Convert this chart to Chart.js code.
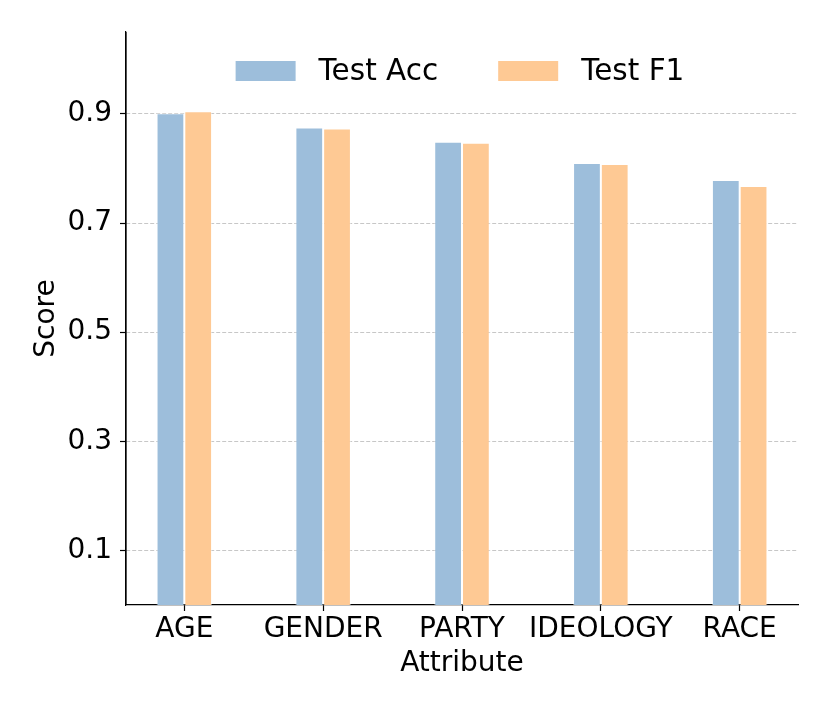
<!DOCTYPE html>
<html>
<head>
<meta charset="utf-8">
<script src="https://cdn.jsdelivr.net/npm/chart.js@4.4.0/dist/chart.umd.min.js"></script>
<style>
    body { margin: 0; background: #fff; }
    canvas { display: block; }
</style>
</head>
<body>
<canvas id="chart" width="830" height="712"></canvas>
<script>
const categories = ['AGE', 'GENDER', 'PARTY', 'IDEOLOGY', 'RACE'];
const testAcc = [0.901, 0.875, 0.849, 0.810, 0.779];
const testF1 = [0.905, 0.873, 0.847, 0.808, 0.768];
const yTicks = [0.1, 0.3, 0.5, 0.7, 0.9];

const FONT = 'DejaVu Sans';

// legend drawn inside the plot, like matplotlib's "upper center"
const innerLegend = {
    id: 'innerLegend',
    afterDraw(chart) {
        const ctx = chart.ctx;
        const area = chart.chartArea;
        const boxW = 60, boxH = 20, gap = 23, spacing = 60;
        ctx.save();
        ctx.font = '29.5px "' + FONT + '"';
        const items = chart.data.datasets.map(ds => ({
            text: ds.label,
            color: ds.backgroundColor,
            w: ctx.measureText(ds.label).width
        }));
        let total = 0;
        items.forEach((it, i) => {
            total += boxW + gap + it.w + (i > 0 ? spacing : 0);
        });
        let x = (area.left + area.right) / 2 - total / 2 - 2;
        const top = area.top + 29;
        ctx.textBaseline = 'middle';
        items.forEach(it => {
            ctx.fillStyle = it.color;
            ctx.fillRect(x, top, boxW, boxH);
            ctx.fillStyle = '#000';
            ctx.fillText(it.text, x + boxW + gap, top + boxH / 2 + 1);
            x += boxW + gap + it.w + spacing;
        });
        ctx.restore();
    }
};

// plain solid left spine on top of the dashed grid
const leftSpine = {
    id: 'leftSpine',
    afterDraw(chart) {
        const ctx = chart.ctx;
        const area = chart.chartArea;
        ctx.save();
        ctx.strokeStyle = '#000';
        ctx.lineWidth = 1.2;
        ctx.setLineDash([]);
        ctx.beginPath();
        ctx.moveTo(area.left, area.top);
        ctx.lineTo(area.left, area.bottom);
        ctx.stroke();
        ctx.restore();
    }
};

const ctx = document.getElementById('chart').getContext('2d');
const myChart = new Chart(ctx, {
    type: 'bar',
    data: {
        datasets: [{
            label: 'Test Acc',
            data: testAcc.map((v, i) => ({x: i, y: v})),
            backgroundColor: '#9dbedb',
            borderColor: 'rgba(255, 255, 255, 0.45)',
            borderWidth: 1,
        }, {
            label: 'Test F1',
            data: testF1.map((v, i) => ({x: i, y: v})),
            backgroundColor: '#fec994',
            borderColor: 'rgba(255, 255, 255, 0.45)',
            borderWidth: 1,
        }]
    },
    options: {
        responsive: false,
        animation: false,
        categoryPercentage: 0.4,
        barPercentage: 1.0,
        layout: {
            padding: {left: 0, right: 32, top: 32, bottom: 0}
        },
        scales: {
            x: {
                type: 'linear',
                min: -0.42,
                max: 4.42,
                offset: false,
                afterBuildTicks: axis => {
                    axis.ticks = categories.map((c, i) => ({value: i}));
                },
                afterFit: scale => { scale.height = 107; },
                ticks: {
                    padding: 2,
                    color: '#000',
                    font: {family: FONT, size: 28},
                    maxRotation: 0,
                    autoSkip: false,
                    callback: value => categories[value]
                },
                grid: {
                    offset: false,
                    drawOnChartArea: false,
                    drawTicks: true,
                    tickLength: 6,
                    tickColor: '#000',
                    tickWidth: 1.2
                },
                border: {display: true, color: '#000', width: 1.2},
                title: {
                    display: true,
                    text: 'Attribute',
                    color: '#000',
                    font: {family: FONT, size: 28},
                    padding: {top: 0, bottom: 31}
                }
            },
            y: {
                min: 0,
                max: 1.05,
                afterBuildTicks: axis => {
                    axis.ticks = yTicks.map(v => ({value: v}));
                },
                afterFit: scale => { scale.width = 126; },
                ticks: {
                    padding: 8,
                    color: '#000',
                    font: {family: FONT, size: 28},
                    callback: value => value.toFixed(1)
                },
                grid: {
                    color: 'rgba(175, 175, 175, 0.7)',
                    lineWidth: 1,
                    tickBorderDash: [],
                    tickLength: 6,
                    tickColor: '#000',
                    tickWidth: 1.2
                },
                border: {display: true, color: '#000', width: 1.2, dash: [4, 2]},
                title: {
                    display: true,
                    text: 'Score',
                    color: '#000',
                    font: {family: FONT, size: 28},
                    padding: {top: 30, bottom: 0}
                }
            }
        },
        plugins: {
            legend: {display: false},
            tooltip: {enabled: false}
        }
    },
    plugins: [innerLegend, leftSpine]
});
</script>
</body>
</html>
